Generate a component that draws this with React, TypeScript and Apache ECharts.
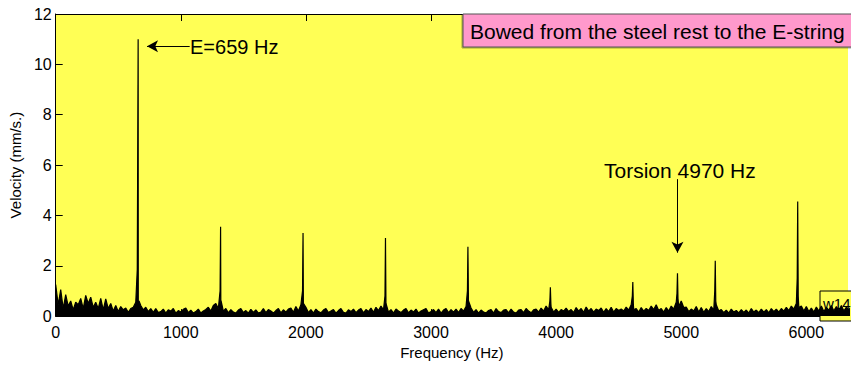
import React, { useEffect, useRef } from "react";
import * as echarts from "echarts";

// Spectrum noise floor, sampled every 20 Hz starting at 0 Hz (mm/s)
const noiseStepHz = 20;
const noiseFloor: number[] = [
  // 0 - 380 Hz
  1.25, 0.45, 1.05, 0.3, 0.85, 0.4, 0.6, 0.25, 0.55, 0.45, 0.7, 0.3, 0.82, 0.5, 0.75, 0.35, 0.55, 0.3, 0.7, 0.25,
  // 400 - 780
  0.68, 0.3, 0.5, 0.2, 0.42, 0.18, 0.38, 0.25, 0.32, 0.15, 0.3, 0.35, 0.55, 0.6, 0.42, 0.25, 0.35, 0.18, 0.3, 0.15,
  // 800 - 1180
  0.3, 0.14, 0.18, 0.28, 0.12, 0.25, 0.2, 0.3, 0.12, 0.22, 0.16, 0.27, 0.32, 0.14, 0.24, 0.12, 0.18, 0.28, 0.12, 0.2,
  // 1200 - 1580
  0.26, 0.35, 0.2, 0.42, 0.5, 0.3, 0.45, 0.2, 0.3, 0.13, 0.26, 0.16, 0.12, 0.24, 0.3, 0.14, 0.22, 0.12, 0.27, 0.15,
  // 1600 - 1980
  0.25, 0.12, 0.16, 0.3, 0.14, 0.26, 0.2, 0.12, 0.22, 0.3, 0.13, 0.25, 0.16, 0.28, 0.32, 0.15, 0.38, 0.2, 0.45, 0.3,
  // 2000 - 2380
  0.35, 0.14, 0.26, 0.12, 0.28, 0.18, 0.13, 0.24, 0.3, 0.14, 0.2, 0.26, 0.12, 0.22, 0.3, 0.15, 0.12, 0.25, 0.18, 0.28,
  // 2400 - 2780
  0.14, 0.24, 0.3, 0.13, 0.26, 0.18, 0.32, 0.15, 0.35, 0.22, 0.4, 0.25, 0.38, 0.16, 0.26, 0.12, 0.28, 0.2, 0.14, 0.24,
  // 2800 - 3180
  0.3, 0.13, 0.24, 0.16, 0.28, 0.12, 0.2, 0.25, 0.3, 0.12, 0.18, 0.26, 0.14, 0.28, 0.12, 0.24, 0.3, 0.14, 0.26, 0.16,
  // 3200 - 3580
  0.28, 0.14, 0.3, 0.2, 0.38, 0.22, 0.32, 0.15, 0.26, 0.12, 0.24, 0.16, 0.13, 0.22, 0.26, 0.12, 0.3, 0.18, 0.14, 0.24,
  // 3600 - 3980
  0.26, 0.13, 0.28, 0.16, 0.12, 0.24, 0.26, 0.14, 0.3, 0.2, 0.13, 0.25, 0.28, 0.16, 0.32, 0.2, 0.4, 0.25, 0.35, 0.16,
  // 4000 - 4380
  0.28, 0.15, 0.26, 0.2, 0.32, 0.18, 0.26, 0.14, 0.34, 0.2, 0.3, 0.15, 0.36, 0.2, 0.3, 0.16, 0.28, 0.22, 0.32, 0.15,
  // 4400 - 4780
  0.3, 0.18, 0.35, 0.16, 0.3, 0.22, 0.28, 0.2, 0.36, 0.24, 0.45, 0.25, 0.3, 0.16, 0.34, 0.2, 0.3, 0.22, 0.4, 0.26,
  // 4800 - 5180
  0.45, 0.22, 0.3, 0.16, 0.34, 0.2, 0.4, 0.28, 0.55, 0.38, 0.6, 0.34, 0.36, 0.18, 0.28, 0.2, 0.38, 0.16, 0.34, 0.15,
  // 5200 - 5580
  0.3, 0.18, 0.38, 0.24, 0.45, 0.2, 0.26, 0.14, 0.24, 0.12, 0.28, 0.16, 0.22, 0.13, 0.26, 0.15, 0.24, 0.12, 0.3, 0.16,
  // 5600 - 5980
  0.24, 0.14, 0.28, 0.16, 0.26, 0.13, 0.3, 0.18, 0.28, 0.16, 0.3, 0.2, 0.35, 0.22, 0.4, 0.28, 0.5, 0.34, 0.4, 0.2,
  // 6000 - 6380
  0.38, 0.18, 0.32, 0.16, 0.36, 0.2, 0.4, 0.18, 0.35, 0.24, 0.42, 0.2, 0.38, 0.22, 0.42, 0.2, 0.36, 0.24, 0.4, 0.2,
];

// Resonance peaks (Hz, mm/s), with their shoulders
const peakFreqs: number[] = [
  652, 659, 666,
  1314, 1318, 1322,
  1973, 1977, 1981,
  2632, 2636, 2640,
  3291, 3295, 3300,
  3950, 3954, 3958,
  4609, 4613, 4617,
  4966, 4970, 4974,
  5268, 5272, 5276,
  5927, 5931, 5935,
];
const peakValues: number[] = [
  1.85, 11.0, 0.6,
  1.0, 3.55, 0.6,
  1.0, 3.3, 0.5,
  0.8, 3.1, 0.5,
  1.0, 2.75, 0.6,
  0.6, 1.15, 0.5,
  0.8, 1.35, 0.5,
  0.9, 1.7, 0.7,
  1.0, 2.2, 0.6,
  1.5, 4.55, 0.8,
];

const xTicks = [0, 1000, 2000, 3000, 4000, 5000, 6000];
const yTicks = [0, 2, 4, 6, 8, 10, 12];

const eArrow = { from: [1071, 10.72], to: [730, 10.72] };
const torsionArrow = { from: [4970, 5.44], to: [4970, 2.52] };

const FONT = "'Liberation Sans', Arial, Helvetica, sans-serif";

export default function App() {
  const ref = useRef<HTMLDivElement>(null);

  useEffect(() => {
    if (!ref.current) return;
    const chart = echarts.init(ref.current, undefined, { renderer: "svg" });

    const pts: [number, number][] = noiseFloor.map((v, i) => [i * noiseStepHz, v] as [number, number]);
    peakFreqs.forEach((f, i) => pts.push([f, peakValues[i]]));
    pts.sort((a, b) => a[0] - b[0]);

    const xMax = 6333;

    chart.setOption({
      animation: false,
      backgroundColor: "#ffffff",
      textStyle: { fontFamily: FONT },
      grid: {
        left: 53,
        top: 14,
        right: 0,
        bottom: 42,
        show: true,
        backgroundColor: "#FFFF55",
        borderWidth: 0,
      },
      xAxis: [
        {
          type: "value",
          min: xTicks[0],
          max: xMax,
          interval: 1000,
          name: "Frequency (Hz)",
          nameLocation: "middle",
          nameGap: 22,
          nameTextStyle: { fontSize: 15, color: "#000", fontFamily: FONT },
          axisLine: { show: true, onZero: false, lineStyle: { color: "#000", width: 1 } },
          axisTick: { show: true, inside: true, length: 7, lineStyle: { color: "#000" } },
          axisLabel: {
            show: true,
            fontSize: 16,
            color: "#000",
            margin: 8,
            fontFamily: FONT,
            formatter: (v: number) => (xTicks.includes(v) ? String(v) : ""),
          },
          splitLine: { show: false },
        },
        {
          type: "value",
          position: "top",
          min: xTicks[0],
          max: xMax,
          interval: 1000,
          axisLine: { show: true, onZero: false, lineStyle: { color: "#000", width: 1 } },
          axisTick: { show: true, inside: true, length: 7, lineStyle: { color: "#000" } },
          axisLabel: { show: false },
          splitLine: { show: false },
        },
      ],
      yAxis: {
        type: "value",
        min: yTicks[0],
        max: yTicks[yTicks.length - 1],
        interval: 2,
        name: "Velocity (mm/s.)",
        nameLocation: "middle",
        nameGap: 30,
        nameTextStyle: { fontSize: 15, color: "#000", fontFamily: FONT },
        axisLine: { show: true, onZero: false, lineStyle: { color: "#000", width: 1 } },
        axisTick: { show: true, inside: true, length: 7, lineStyle: { color: "#000" } },
        axisLabel: { fontSize: 16, color: "#000", margin: 4, fontFamily: FONT },
        splitLine: { show: false },
      },
      series: [
        {
          type: "line",
          data: pts,
          showSymbol: false,
          symbol: "none",
          lineStyle: { color: "#000", width: 1.2 },
          areaStyle: { color: "#000", opacity: 1 },
          z: 3,
          silent: true,
          markLine: {
            silent: true,
            symbol: ["none", "arrow"],
            symbolSize: [9, 11],
            label: { show: false },
            lineStyle: { color: "#000", width: 1, type: "solid" },
            data: [
              [{ coord: eArrow.from }, { coord: eArrow.to }],
              [{ coord: torsionArrow.from }, { coord: torsionArrow.to }],
            ],
          },
        },
      ],
      graphic: [
        {
          type: "rect",
          z: 10,
          shape: { x: 463, y: 14, width: 400, height: 33 },
          style: { fill: "#FF99CC", stroke: "#555", lineWidth: 1, shadowColor: "rgba(0,0,0,0.35)", shadowOffsetX: -1, shadowOffsetY: 1, shadowBlur: 0 },
        },
        {
          type: "text",
          z: 11,
          x: 470,
          y: 31,
          style: {
            text: "Bowed from the steel rest to the E-string",
            font: `21px ${FONT}`,
            fill: "#000",
            verticalAlign: "middle",
          },
        },
        {
          type: "text",
          z: 11,
          x: 190,
          y: 47,
          style: {
            text: "E=659 Hz",
            font: `20px ${FONT}`,
            fill: "#000",
            verticalAlign: "middle",
          },
        },
        {
          type: "text",
          z: 11,
          x: 604,
          y: 170,
          style: {
            text: "Torsion 4970 Hz",
            font: `21px ${FONT}`,
            fill: "#000",
            verticalAlign: "middle",
          },
        },
        {
          type: "rect",
          z: 1,
          shape: { x: 820, y: 291, width: 60, height: 30 },
          style: { fill: "#FFFF55", stroke: "#000", lineWidth: 1 },
        },
        {
          type: "text",
          z: 1,
          x: 823,
          y: 303,
          style: { text: "w14", font: `15px ${FONT}`, fill: "#000", verticalAlign: "middle" },
        },
      ],
    });

    return () => chart.dispose();
  }, []);

  return (
    <div
      ref={ref}
      style={{ position: "absolute", left: 0, top: 0, width: 851, height: 365 }}
    />
  );
}
